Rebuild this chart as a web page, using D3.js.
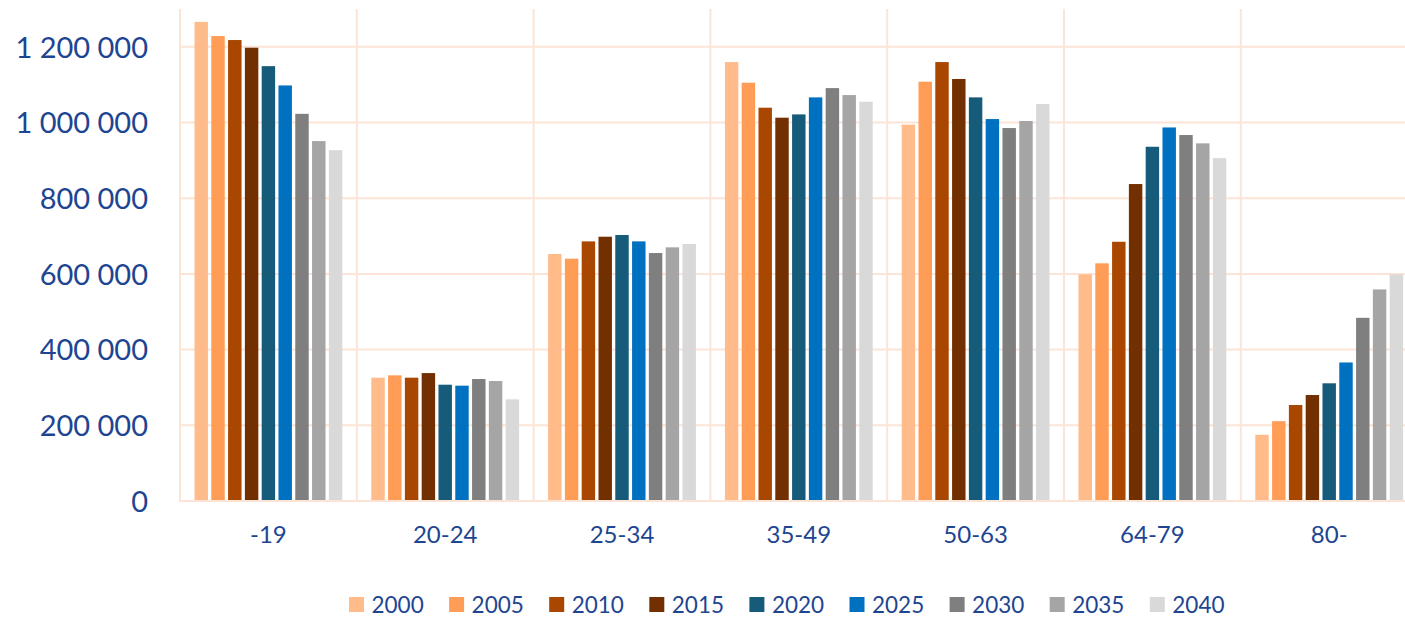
<!DOCTYPE html>
<html><head><meta charset="utf-8">
<script src="https://cdn.jsdelivr.net/npm/d3@7"></script>
<style>
html,body{margin:0;padding:0;background:#fff;overflow:hidden}
text{font-family:Lato,"Noto Sans",sans-serif;fill:#1E4591}
</style></head>
<body><svg id="c" width="1405" height="618"></svg>
<script>
const categories = ["-19","20-24","25-34","35-49","50-63","64-79","80-"];
const years = ["2000","2005","2010","2015","2020","2025","2030","2035","2040"];
const colors = ["#FFBC8A","#FF9C55","#A94600","#722F00","#175B7A","#0070C0","#7F7F7F","#A5A5A5","#D9D9D9"];
const v2000 = [1266000, 325800, 652600, 1159800, 994300, 599000, 175000];
const v2005 = [1228500, 332000, 640200, 1105200, 1107900, 628000, 211000];
const v2010 = [1218000, 325800, 686000, 1039200, 1159800, 685000, 253600];
const v2015 = [1197700, 338000, 698300, 1012800, 1115000, 837500, 280000];
const v2020 = [1149000, 307300, 702800, 1021500, 1066500, 936000, 311000];
const v2025 = [1098000, 304700, 686000, 1066500, 1009200, 987000, 366000];
const v2030 = [1023000, 322300, 655200, 1091000, 985500, 967000, 484000];
const v2035 = [951000, 317000, 670200, 1072600, 1004000, 945000, 559000];
const v2040 = [927000, 268600, 679000, 1055000, 1048900, 906000, 599000];
const yTicks = [0, 200000, 400000, 600000, 800000, 1000000, 1200000];
const series = [v2000,v2005,v2010,v2015,v2020,v2025,v2030,v2035,v2040];

const svg = d3.select("#c");
const gw = 176.8;
const x0 = d3.scaleBand().domain(categories).range([180, 180 + 7*gw]).padding(0);
const x1 = d3.scaleBand().domain(years).range([14.5, gw - 14.5]).paddingInner(0.2);
const y = d3.scaleLinear().domain([0, 1300000]).range([501, 9]);
const grid = "#FCE4D6";
const fmt = v => d3.format(",")(v).replace(/,/g, " ");

// horizontal gridlines
svg.append("g").selectAll("line").data(yTicks).join("line")
  .attr("x1", 180).attr("x2", 1405)
  .attr("y1", d => y(d)).attr("y2", d => y(d))
  .attr("stroke", grid).attr("stroke-width", 2);
// vertical gridlines at category boundaries
svg.append("g").selectAll("line").data(categories).join("line")
  .attr("x1", d => x0(d)).attr("x2", d => x0(d))
  .attr("y1", y(1300000)).attr("y2", y(0) + 1)
  .attr("stroke", grid).attr("stroke-width", 2);

// y axis labels
const ya = svg.append("g").attr("transform", "translate(148,0)")
  .call(d3.axisLeft(y).tickValues(yTicks).tickFormat(fmt).tickSize(0).tickPadding(0));
ya.select(".domain").remove();
ya.selectAll("text").style("font-size", "29px").attr("fill", "#1E4591")
  .style("font-family", "Lato").attr("dy", "0.35em");

// bars
const groups = svg.append("g").selectAll("g").data(categories).join("g")
  .attr("transform", d => `translate(${x0(d)},0)`);
groups.selectAll("rect").data((c, ci) => years.map((yr, si) => ({yr, si, v: series[si][ci]})))
  .join("rect")
  .attr("x", d => x1(d.yr)).attr("width", x1.bandwidth())
  .attr("y", d => y(d.v)).attr("height", d => y(0) - y(d.v))
  .attr("fill", d => colors[d.si]);

// x axis labels
const xa = svg.append("g").attr("transform", "translate(0,526)")
  .call(d3.axisBottom(x0).tickSize(0).tickPadding(0));
xa.select(".domain").remove();
xa.selectAll("text").style("font-size", "24px").attr("fill", "#1E4591")
  .style("font-family", "Lato").attr("dy", "0.71em");

// bottom axis line
svg.append("line").attr("x1", 180).attr("x2", 1405)
  .attr("y1", y(0)).attr("y2", y(0)).attr("stroke", grid).attr("stroke-width", 2);

// legend
const lg = svg.append("g").selectAll("g").data(years).join("g")
  .attr("transform", (d, i) => `translate(${349 + i*100.1},0)`);
lg.append("rect").attr("x", 0).attr("y", 597).attr("width", 15).attr("height", 15)
  .attr("fill", (d, i) => colors[i]);
lg.append("text").attr("x", 22.5).attr("y", 613).text(d => d)
  .style("font-size", "22.5px");
</script></body></html>
